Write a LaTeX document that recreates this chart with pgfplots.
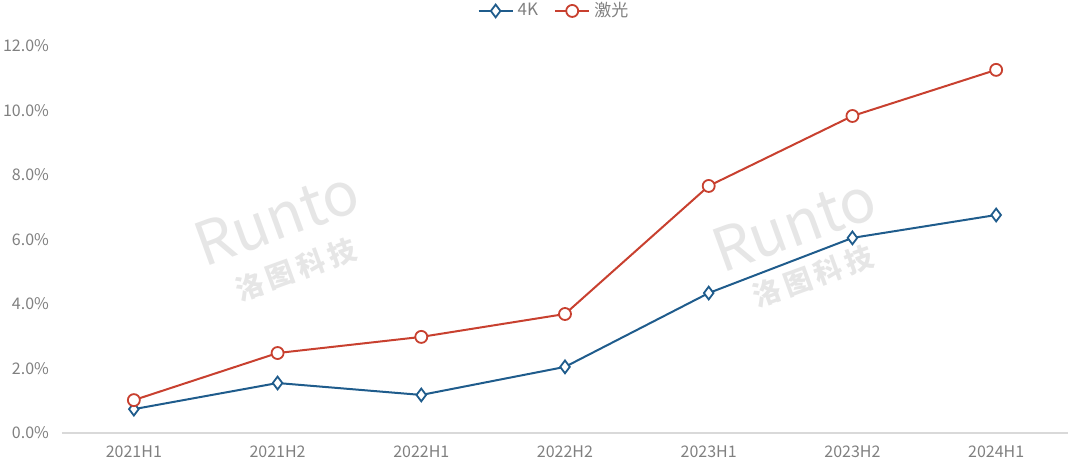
\documentclass[border=0pt]{standalone}
\usepackage{fontspec}
\setmainfont{Noto Sans CJK SC}
\usepackage{pgfplots}
\pgfplotsset{compat=1.18}

\definecolor{kblue}{HTML}{1F5C8C}
\definecolor{lred}{HTML}{C8402F}
\definecolor{txtgray}{HTML}{808080}
\definecolor{axgray}{HTML}{D9D9D9}
\definecolor{wm}{HTML}{E6E6E6}

\begin{document}
\begin{tikzpicture}[x=1pt,y=1pt]
\begin{axis}[
    at={(0,0)}, anchor=south west,
    scale only axis,
    width=503pt, height=193.5pt,
    xmin=-0.5, xmax=6.5,
    ymin=0, ymax=12,
    xtick={0,...,6},
    xticklabels={2021H1,2021H2,2022H1,2022H2,2023H1,2023H2,2024H1},
    ytick={0,2,...,12},
    yticklabel={\pgfmathprintnumber[fixed,fixed zerofill,precision=1]{\tick}\%},
    /pgf/number format/assume math mode=true,
    axis y line*=left, y axis line style={draw=none},
    axis x line*=bottom, x axis line style={draw=axgray, line width=0.6pt},
    major tick length=0pt,
    tick style={draw=none},
    ticklabel style={font=\fontsize{8}{9}\selectfont, text=txtgray},
    yticklabel style={xshift=-3pt},
    xticklabel style={yshift=-3pt},
    legend style={draw=none, fill=none, at={(0.49,1)}, anchor=south, yshift=9pt,
        legend columns=-1, font=\fontsize{8.5}{10}\selectfont, text=txtgray,
        /tikz/every even column/.append style={column sep=6pt}},
    legend cell align=left,
    clip=false,
]
% watermark
\node[rotate=20, text=wm, align=center, font=\fontsize{30}{26}\selectfont\itshape] at (axis cs:1.05,6.0)
    {Runto\\[-4pt]{\fontsize{14}{14}\selectfont\bfseries 洛\,图\,科\,技}};
\node[rotate=20, text=wm, align=center, font=\fontsize{30}{26}\selectfont\itshape] at (axis cs:4.65,5.8)
    {Runto\\[-4pt]{\fontsize{14}{14}\selectfont\bfseries 洛\,图\,科\,技}};

\addplot[color=kblue, line width=1pt, mark=diamond*,
    mark options={fill=white, line width=0.9pt}, mark size=3.2pt]
    coordinates {(0,0.74)(1,1.55)(2,1.18)(3,2.05)(4,4.34)(5,6.05)(6,6.76)};
\addlegendentry{4K}
\addplot[color=lred, line width=1pt, mark=*,
    mark options={fill=white, line width=0.9pt}, mark size=3pt]
    coordinates {(0,1.02)(1,2.48)(2,2.98)(3,3.69)(4,7.66)(5,9.83)(6,11.26)};
\addlegendentry{激光}
\end{axis}
\pgfresetboundingbox
\path[use as bounding box] (-31pt,-17.5pt) rectangle (507.5pt,216.5pt);
\end{tikzpicture}
\end{document}
